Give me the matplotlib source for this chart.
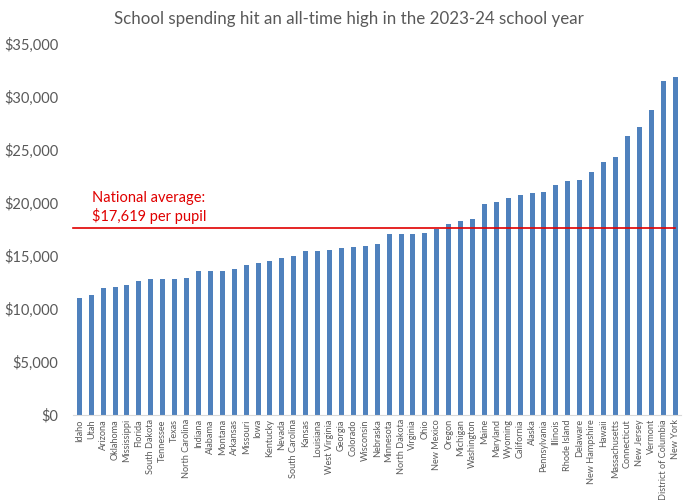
"""Per-pupil school spending by state, 2023-24."""

import matplotlib.pyplot as plt
from matplotlib.ticker import FuncFormatter

plt.rcParams["font.family"] = ["Lato", "DejaVu Sans"]

BAR_COLOR = "#4f81bd"
AVG_COLOR = "#e00000"
TEXT_COLOR = "#595959"

states = [
    "Idaho", "Utah", "Arizona", "Oklahoma", "Mississippi", "Florida",
    "South Dakota", "Tennessee", "Texas", "North Carolina", "Indiana",
    "Alabama", "Montana", "Arkansas", "Missouri", "Iowa", "Kentucky",
    "Nevada", "South Carolina", "Kansas", "Louisiana", "West Virginia",
    "Georgia", "Colorado", "Wisconsin", "Nebraska", "Minnesota",
    "North Dakota", "Virginia", "Ohio", "New Mexico", "Oregon", "Michigan",
    "Washington", "Maine", "Maryland", "Wyoming", "California", "Alaska",
    "Pennsylvania", "Illinois", "Rhode Island", "Delaware", "New Hampshire",
    "Hawaii", "Massachusetts", "Connecticut", "New Jersey", "Vermont",
    "District of Columbia", "New York",
]

spending = [
    11000, 11300, 11950, 12100, 12300, 12670, 12800, 12830, 12830, 12950,
    13580, 13580, 13600, 13800, 14180, 14300, 14500, 14800, 15000, 15470,
    15500, 15600, 15800, 15850, 15900, 16130, 17080, 17080, 17080, 17200,
    17580, 18020, 18270, 18490, 19900, 20120, 20470, 20750, 20940, 21040,
    21730, 22040, 22170, 22900, 23840, 24370, 26290, 27200, 28770, 31480,
    31860,
]

national_average = 17619
y_ticks = [0, 5000, 10000, 15000, 20000, 25000, 30000, 35000]

fig = plt.figure(figsize=(6.91, 5.0), dpi=100)
ax = fig.add_axes([0.1062, 0.17, 0.8793, 0.742])

x = list(range(len(states)))
ax.bar(x, spending, width=0.42, color=BAR_COLOR, zorder=2)

# National average reference line
ax.plot([-0.55, len(states) - 1], [national_average, national_average],
        color=AVG_COLOR, linewidth=1.2, zorder=3, clip_on=False)
ax.text(1.05, national_average + 400, "National average:\n$17,619 per pupil",
        color=AVG_COLOR, fontsize=10.5, ha="left", va="bottom",
        linespacing=1.25)

ax.set_xlim(-0.5, len(states) - 0.5)
ax.set_ylim(0, 35000)
ax.set_yticks(y_ticks)
ax.yaxis.set_major_formatter(FuncFormatter(lambda v, _: f"${v:,.0f}"))
ax.set_xticks(x)
ax.set_xticklabels(states, rotation=90, fontsize=6.6, color=TEXT_COLOR)
ax.tick_params(axis="y", length=0, labelsize=10.5, labelcolor=TEXT_COLOR, pad=11)
ax.tick_params(axis="x", length=0, pad=3)

for side in ("top", "right", "left"):
    ax.spines[side].set_visible(False)
ax.spines["bottom"].set_color("#d9d9d9")

fig.suptitle("School spending hit an all-time high in the 2023-24 school year",
             x=0.505, y=0.978, fontsize=12.2, color=TEXT_COLOR)

fig.savefig("out.png", dpi=100)
